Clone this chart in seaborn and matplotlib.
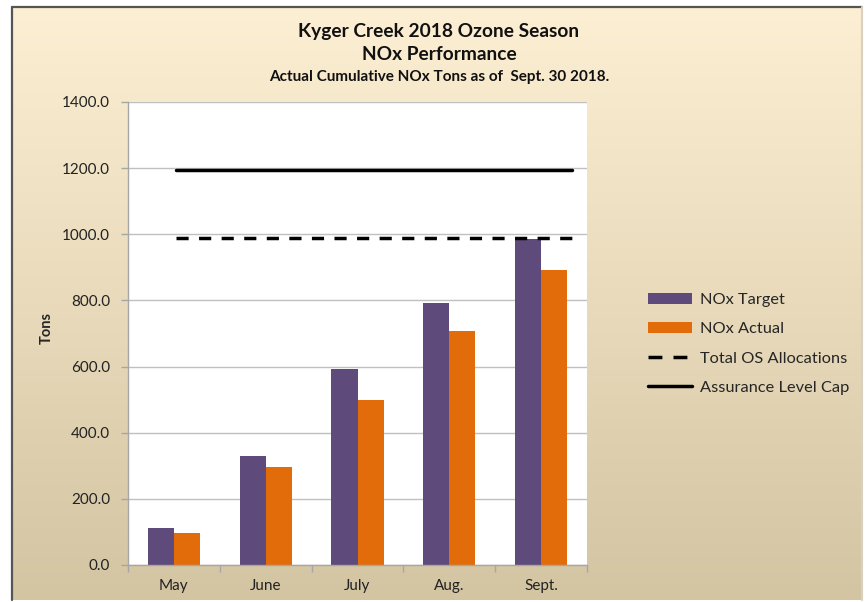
import numpy as np
import pandas as pd
import matplotlib
matplotlib.use("Agg")
import matplotlib.pyplot as plt
import seaborn as sns
from matplotlib.patches import Patch
from matplotlib.lines import Line2D

months = ["May", "June", "July", "Aug.", "Sept."]
nox_target = [112, 330, 593, 792, 986]
nox_actual = [97, 297, 499, 708, 892]
total_os_alloc = [989, 989, 989, 989, 989]
assurance_cap = [1195, 1195, 1195, 1195, 1195]
series_names = ["NOx Target", "NOx Actual"]
line_names = ["Total OS Allocations", "Assurance Level Cap"]
yticks = [0, 200, 400, 600, 800, 1000, 1200, 1400]

sns.set_theme(style="white")
plt.rcParams["font.family"] = ["Lato", "DejaVu Sans"]

W, H = 866, 602
fig = plt.figure(figsize=(W / 100, H / 100), dpi=100)

# background gradient panel
bg = fig.add_axes([0, 0, 1, 1], zorder=-10)
bg.set_xlim(0, W)
bg.set_ylim(H, 0)
bg.axis("off")
top = np.array([253, 239, 211]) / 255
bot = np.array([211, 197, 162]) / 255
t = np.linspace(0, 1, 256)[:, None]
grad = (top[None, :] * (1 - t) + bot[None, :] * t)[:, None, :]
bg.imshow(grad, extent=[12, 862, 600, 7], aspect="auto", interpolation="bilinear")
bg.plot([12, 12], [7, 600], color="#555555", lw=1.6)
bg.plot([12, 862], [7, 7], color="#555555", lw=1.6)
bg.plot([862, 862], [7, 600], color="#d8d0c0", lw=1.5)

df = pd.DataFrame({
    "Month": months * 2,
    "Tons": nox_target + nox_actual,
    "Series": [series_names[0]] * 5 + [series_names[1]] * 5,
})

colors = ["#5F4B7B", "#E36C0A"]
ax = fig.add_axes([128 / W, 1 - 565 / H, (587 - 128) / W, (565 - 102) / H])
ax.set_facecolor("white")
sns.barplot(data=df, x="Month", y="Tons", hue="Series", palette=colors,
            width=0.57, ax=ax, legend=False, saturation=1, edgecolor="none")
ax.set_xlim(-0.5, 4.5)
ax.set_ylim(0, 1400)
ax.set_yticks(yticks)
ax.set_yticklabels([f"{v:.1f}" for v in yticks])
ax.yaxis.grid(True, color="#C0C0C0", lw=1)
ax.set_axisbelow(True)
for s in ["top", "right"]:
    ax.spines[s].set_visible(False)
for s in ["left", "bottom"]:
    ax.spines[s].set_color("#A6A6A6")
    ax.spines[s].set_linewidth(1)
ax.set_xticks(np.arange(5))
ax.set_xticklabels(months)
ax.set_xticks(np.arange(-0.5, 5, 1), minor=True)
ax.tick_params(axis="x", which="major", length=0, pad=10, labelsize=11, colors="#222222")
ax.tick_params(axis="x", which="minor", length=5, width=1, color="#A6A6A6", direction="out", bottom=True)
ax.tick_params(axis="y", length=5, width=1, color="#A6A6A6", direction="out", left=True,
               labelsize=11, labelcolor="#222222", pad=8)
ax.set_xlabel("")
ax.set_ylabel("Tons", fontsize=10.5, fontweight="bold")
ax.yaxis.set_label_coords((54 - 128) / (587 - 128), (565 - 328) / (565 - 102))

# reference lines on a secondary category axis
ax2 = ax.twiny()
ax2.set_xlim(-0.485, 4.15)
ax2.set_ylim(0, 1400)
ax2.axis("off")
ax2.plot(np.arange(5), total_os_alloc, color="black", lw=2.5, ls=(0, (3.5, 3)))
ax2.plot(np.arange(5), assurance_cap, color="black", lw=2.5)

# titles
fig.text(439 / W, 1 - 32 / H, "Kyger Creek 2018 Ozone Season", ha="center", va="center",
         fontsize=13.8, fontweight="bold", color="#111111")
fig.text(439 / W, 1 - 55 / H, "NOx Performance", ha="center", va="center",
         fontsize=13.8, fontweight="bold", color="#111111")
fig.text(439 / W, 1 - 77 / H, "Actual Cumulative NOx Tons as of  Sept. 30 2018.", ha="center",
         va="center", fontsize=11, fontweight="bold", color="#111111")

handles = [
    Patch(facecolor=colors[0], edgecolor="none"),
    Patch(facecolor=colors[1], edgecolor="none"),
    Line2D([], [], color="black", lw=2.5, ls=(0, (4, 3.2))),
    Line2D([], [], color="black", lw=2.5),
]
fig.legend(handles, series_names + line_names, loc="center left",
           bbox_to_anchor=(648 / W, 1 - 344 / H), frameon=False, fontsize=11.8,
           handlelength=2.7, handleheight=0.6, labelspacing=0.92, handletextpad=0.5,
           borderaxespad=0, borderpad=0)

fig.savefig("out.png", dpi=100)
